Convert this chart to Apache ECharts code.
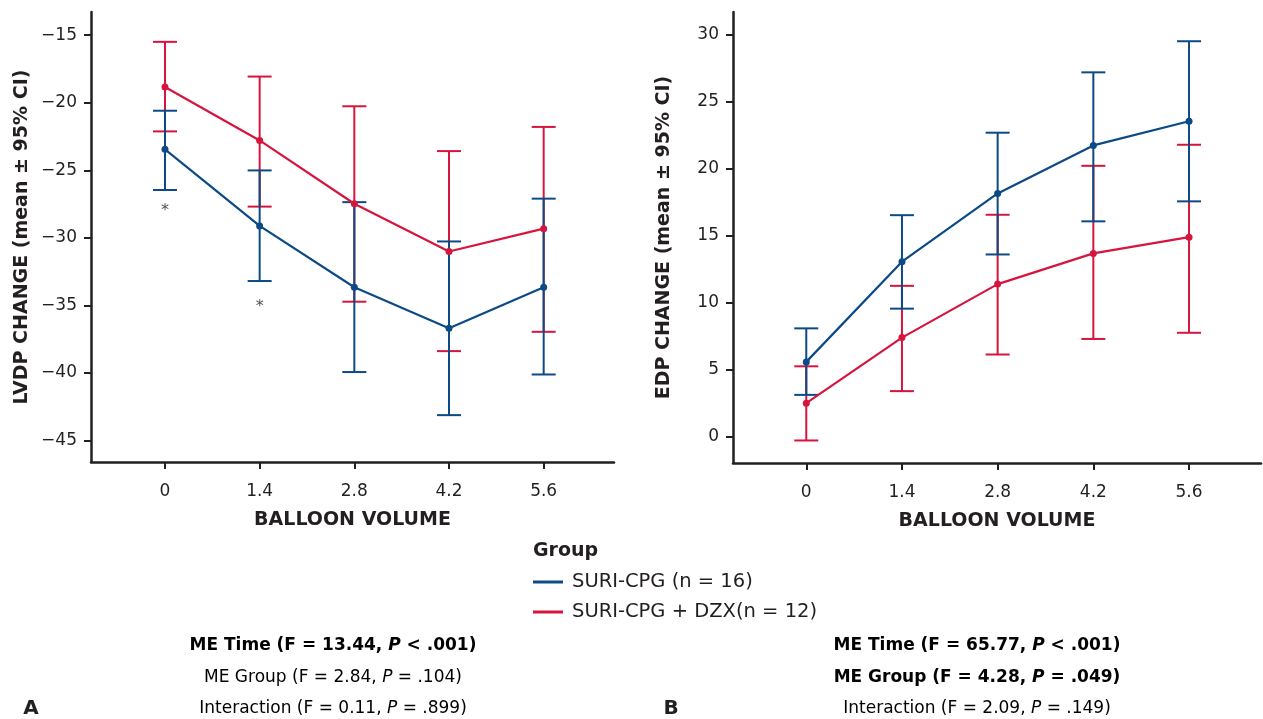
<!DOCTYPE html>
<html>
<head>
<meta charset="utf-8">
<script src="https://cdn.jsdelivr.net/npm/echarts@6/dist/echarts.min.js"></script>
<style>
html,body{margin:0;padding:0;background:#fff;}
#chart{width:1263px;height:719px;}
</style>
</head>
<body>
<div id="chart"></div>
<script>
// ---- data ----
const volumes = [0, 1.4, 2.8, 4.2, 5.6];
const volumeTicks = [0, 1.4, 2.8, 4.2, 5.6];

const lvdpSuriMean  = [-23.45, -29.12, -33.66, -36.70, -33.66];
const lvdpSuriLower = [-26.46, -33.20, -39.94, -43.13, -40.12];
const lvdpSuriUpper = [-20.59, -25.01, -27.36, -30.27, -27.10];
const lvdpDzxMean   = [-18.83, -22.79, -27.48, -31.01, -29.32];
const lvdpDzxLower  = [-22.12, -27.69, -34.73, -38.39, -36.96];
const lvdpDzxUpper  = [-15.49, -18.06, -20.26, -23.58, -21.79];
const lvdpTicks = [-45, -40, -35, -30, -25, -20, -15];

const sigX = [0, 1.4];
const sigY = [-27.7, -34.85];

const edpSuriMean  = [5.60, 13.07, 18.16, 21.74, 23.54];
const edpSuriLower = [3.14, 9.57, 13.61, 16.08, 17.57];
const edpSuriUpper = [8.10, 16.54, 22.69, 27.19, 29.51];
const edpDzxMean   = [2.52, 7.41, 11.40, 13.69, 14.90];
const edpDzxLower  = [-0.26, 3.42, 6.15, 7.31, 7.77];
const edpDzxUpper  = [5.27, 11.27, 16.57, 20.22, 21.79];
const edpTicks = [0, 5, 10, 15, 20, 25, 30];

const seriesNames = ['SURI-CPG (n = 16)', 'SURI-CPG + DZX(n = 12)'];

// ---- styles ----
const FONT = 'DejaVu Sans';
const INK = '#231f20';
const BLUE = '#0b4a86';
const RED = '#d6153f';

function pairs(xs, ys) { return xs.map((x, i) => [x, ys[i]]); }
function triples(xs, lo, hi) { return xs.map((x, i) => [x, lo[i], hi[i]]); }
function fmtNum(v) { return v < 0 ? '\u2212' + String(Math.abs(v)) : String(v); }

function errBars(color) {
  return function (params, api) {
    const x = api.value(0), lo = api.value(1), hi = api.value(2);
    const a = api.coord([x, lo]), b = api.coord([x, hi]);
    const hw = 12;
    const st = { stroke: color, lineWidth: 2, fill: null };
    return {
      type: 'group',
      children: [
        { type: 'line', shape: { x1: a[0], y1: a[1], x2: b[0], y2: b[1] }, style: st },
        { type: 'line', shape: { x1: a[0] - hw, y1: a[1], x2: a[0] + hw, y2: a[1] }, style: st },
        { type: 'line', shape: { x1: b[0] - hw, y1: b[1], x2: b[0] + hw, y2: b[1] }, style: st }
      ]
    };
  };
}

function xAxisCfg(gridIndex, min, max) {
  return {
    type: 'value', gridIndex, min, max,
    name: 'BALLOON VOLUME', nameLocation: 'middle', nameGap: 49,
    nameTextStyle: { fontFamily: FONT, fontWeight: 'bold', fontSize: 19, color: INK },
    axisLine: { show: true, onZero: false, lineStyle: { color: INK, width: 2.5 } },
    axisTick: { show: true, length: 7, lineStyle: { color: INK, width: 2 }, customValues: volumeTicks },
    axisLabel: { show: true, margin: 21, fontFamily: FONT, fontSize: 17, color: INK,
      customValues: volumeTicks, formatter: v => fmtNum(v) },
    splitLine: { show: false }
  };
}
function yAxisCfg(gridIndex, min, max, ticks, name) {
  return {
    type: 'value', gridIndex, min, max,
    name, nameLocation: 'middle', nameGap: 59, nameRotate: 90,
    nameTextStyle: { fontFamily: FONT, fontWeight: 'bold', fontSize: 19, color: INK },
    axisLine: { show: true, onZero: false, lineStyle: { color: INK, width: 2.5 } },
    axisTick: { show: true, length: 7, lineStyle: { color: INK, width: 2 }, customValues: ticks },
    axisLabel: { show: true, margin: 14, fontFamily: FONT, fontSize: 17, color: INK,
      customValues: ticks, formatter: v => fmtNum(v) },
    splitLine: { show: false }
  };
}

function meanLine(name, color, xi, data) {
  return {
    name, type: 'line', xAxisIndex: xi, yAxisIndex: xi, data,
    symbol: 'circle', symbolSize: 7, showSymbol: true,
    lineStyle: { color, width: 2.2 }, itemStyle: { color }, z: 4
  };
}
function errSeries(name, color, xi, data) {
  return {
    name, type: 'custom', xAxisIndex: xi, yAxisIndex: xi, data,
    renderItem: errBars(color), encode: { x: 0, y: [1, 2] }, z: 3, silent: true
  };
}

function statText(x, y, parts) {
  return {
    type: 'text', x, y,
    style: {
      text: parts.map(p => '{' + p[1] + '|' + p[0] + '}').join(''),
      align: 'center', verticalAlign: 'middle',
      rich: {
        n: { fontFamily: FONT, fontSize: 17, color: INK },
        b: { fontFamily: FONT, fontSize: 17, color: INK, fontWeight: 'bold' },
        i: { fontFamily: FONT, fontSize: 17, color: INK, fontStyle: 'italic' },
        bi: { fontFamily: FONT, fontSize: 17, color: INK, fontWeight: 'bold', fontStyle: 'italic' }
      }
    }
  };
}

const option = {
  animation: false,
  backgroundColor: '#fff',
  grid: [
    { left: 91, top: 12, width: 523, height: 450 },
    { left: 733, top: 12, width: 528, height: 451 }
  ],
  xAxis: [ xAxisCfg(0, -1.094, 6.64), xAxisCfg(1, -1.072, 6.653) ],
  yAxis: [
    yAxisCfg(0, -46.6, -13.28, lvdpTicks, 'LVDP CHANGE (mean \u00b1 95% CI)'),
    yAxisCfg(1, -1.94, 31.69, edpTicks, 'EDP CHANGE (mean \u00b1 95% CI)')
  ],
  legend: {
    orient: 'vertical', left: 533, top: 571, itemGap: 8, padding: 0,
    icon: 'rect', itemWidth: 30, itemHeight: 3,
    textStyle: { fontFamily: FONT, fontSize: 19.5, color: INK, lineHeight: 22, padding: [0, 0, 0, 4] },
    data: [
      { name: seriesNames[0], itemStyle: { color: BLUE } },
      { name: seriesNames[1], itemStyle: { color: RED } }
    ],
    selectedMode: false
  },
  series: [
    errSeries(seriesNames[1], RED, 0, triples(volumes, lvdpDzxLower, lvdpDzxUpper)),
    errSeries(seriesNames[0], BLUE, 0, triples(volumes, lvdpSuriLower, lvdpSuriUpper)),
    meanLine(seriesNames[1], RED, 0, pairs(volumes, lvdpDzxMean)),
    meanLine(seriesNames[0], BLUE, 0, pairs(volumes, lvdpSuriMean)),
    {
      type: 'scatter', xAxisIndex: 0, yAxisIndex: 0, data: pairs(sigX, sigY),
      symbolSize: 1, itemStyle: { color: 'rgba(0,0,0,0)' }, silent: true,
      label: { show: true, position: 'inside', formatter: '*', offset: [0, 4],
        fontFamily: FONT, fontSize: 16, color: INK }
    },
    errSeries(seriesNames[1], RED, 1, triples(volumes, edpDzxLower, edpDzxUpper)),
    errSeries(seriesNames[0], BLUE, 1, triples(volumes, edpSuriLower, edpSuriUpper)),
    meanLine(seriesNames[1], RED, 1, pairs(volumes, edpDzxMean)),
    meanLine(seriesNames[0], BLUE, 1, pairs(volumes, edpSuriMean))
  ],
  graphic: [
    { type: 'text', x: 533, y: 551, style: { text: 'Group', fontFamily: FONT, fontWeight: 'bold', fontSize: 19, fill: INK, verticalAlign: 'middle' } },
    statText(333, 646, [['ME Time (F = 13.44, ', 'b'], ['P', 'bi'], [' < .001)', 'b']]),
    statText(333, 678, [['ME Group (F = 2.84, ', 'n'], ['P', 'i'], [' = .104)', 'n']]),
    statText(333, 709, [['Interaction (F = 0.11, ', 'n'], ['P', 'i'], [' = .899)', 'n']]),
    statText(977, 646, [['ME Time (F = 65.77, ', 'b'], ['P', 'bi'], [' < .001)', 'b']]),
    statText(977, 678, [['ME Group (F = 4.28, ', 'b'], ['P', 'bi'], [' = .049)', 'b']]),
    statText(977, 709, [['Interaction (F = 2.09, ', 'n'], ['P', 'i'], [' = .149)', 'n']]),
    { type: 'text', x: 31, y: 709, style: { text: 'A', fontFamily: FONT, fontWeight: 'bold', fontSize: 20, fill: INK, align: 'center', verticalAlign: 'middle' } },
    { type: 'text', x: 671, y: 709, style: { text: 'B', fontFamily: FONT, fontWeight: 'bold', fontSize: 20, fill: INK, align: 'center', verticalAlign: 'middle' } }
  ]
};

const chart = echarts.init(document.getElementById('chart'), null, { renderer: 'canvas' });
chart.setOption(option);
</script>
</body>
</html>
